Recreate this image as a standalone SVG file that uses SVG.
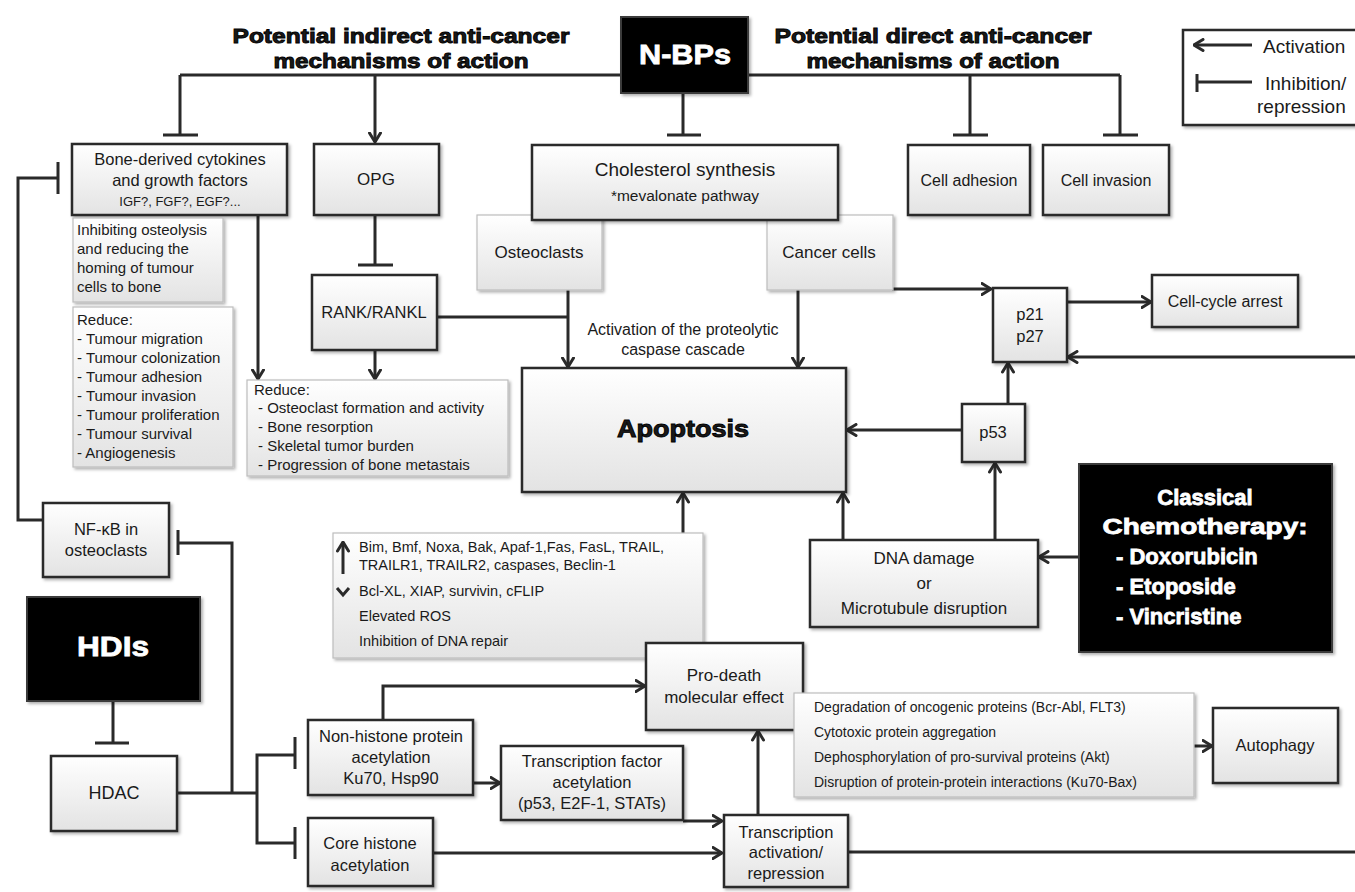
<svg xmlns="http://www.w3.org/2000/svg" width="1355" height="892" viewBox="0 0 1355 892">
<defs>
<linearGradient id="g" x1="0" y1="0" x2="0" y2="1">
<stop offset="0" stop-color="#ffffff"/>
<stop offset="1" stop-color="#e3e3e3"/>
</linearGradient>
<filter id="sh" x="-10%" y="-10%" width="130%" height="130%">
<feDropShadow dx="2" dy="2" stdDeviation="1.5" flood-color="#000" flood-opacity="0.3"/>
</filter>
<marker id="ar" viewBox="0 0 12 14" refX="10.5" refY="7" markerWidth="12" markerHeight="14" orient="auto" markerUnits="userSpaceOnUse">
<path d="M1.5,1.5 L10.5,7 L1.5,12.5" fill="none" stroke="#2a2a2a" stroke-width="3" stroke-linecap="round"/>
</marker>
</defs>
<style>
.box{fill:url(#g);stroke:#2a2a2a;stroke-width:2.5;filter:url(#sh)}
.lbox{fill:url(#g);stroke:#bdbdbd;stroke-width:1.2;filter:url(#sh)}
.blk{fill:#000;stroke:#3a3a3a;stroke-width:2;filter:url(#sh)}
.t{font-family:"Liberation Sans",Arial,sans-serif;fill:#1a1a1a}
.c{text-anchor:middle}
.b{font-weight:bold}
.hv{font-weight:bold;stroke:#000;stroke-width:0.9}
.w{fill:#fff}
.hw{font-weight:bold;fill:#fff;stroke:#fff;stroke-width:0.8}
.ln{stroke:#2a2a2a;stroke-width:3;fill:none}
.a{marker-end:url(#ar)}
</style>
<rect width="1355" height="892" fill="#fff"/>

<g id="titles">
<text class="t hv" x="401" y="43" font-size="21" text-anchor="middle" textLength="337" lengthAdjust="spacingAndGlyphs">Potential indirect anti-cancer</text>
<text class="t hv" x="401" y="68" font-size="21" text-anchor="middle" textLength="255" lengthAdjust="spacingAndGlyphs">mechanisms of action</text>
<text class="t hv" x="933" y="43" font-size="21" text-anchor="middle" textLength="317" lengthAdjust="spacingAndGlyphs">Potential direct anti-cancer</text>
<text class="t hv" x="933" y="68" font-size="21" text-anchor="middle" textLength="253" lengthAdjust="spacingAndGlyphs">mechanisms of action</text>
<text class="t c" x="683" y="335" font-size="16">Activation of the proteolytic</text>
<text class="t c" x="683" y="355" font-size="16">caspase cascade</text>
</g>

<g id="connectors">
<path class="ln" d="M180,75 H1120"/>
<path class="ln" d="M180,75 V135 M163,135 H198"/>
<path class="ln a" d="M375,75 V142"/>
<path class="ln" d="M683,93 V135 M667,135 H701"/>
<path class="ln" d="M970,75 V135 M953,135 H988"/>
<path class="ln" d="M1120,75 V135 M1103,135 H1138"/>
<path class="ln" d="M43,520 H18 V178 H58 M58,162 V194"/>
<path class="ln a" d="M258,215 V379"/>
<path class="ln" d="M375,215 V265 M358,265 H393"/>
<path class="ln a" d="M375,350 V379"/>
<path class="ln" d="M437,317 H568"/>
<path class="ln a" d="M568,290 V367"/>
<path class="ln a" d="M798,290 V367"/>
<path class="ln a" d="M892,289 H991"/>
<path class="ln a" d="M1067,302 H1151"/>
<path class="ln a" d="M1355,357 H1068"/>
<path class="ln a" d="M1008,404 V363"/>
<path class="ln a" d="M962,430 H847"/>
<path class="ln a" d="M843,540 V493"/>
<path class="ln a" d="M995,540 V463"/>
<path class="ln a" d="M1079,557 H1039"/>
<path class="ln a" d="M683,533 V493"/>
<path class="ln" d="M113,701 V743 M95,743 H129"/>
<path class="ln" d="M177,793 H257"/>
<path class="ln" d="M232,793 V543 H179 M178,530 V555"/>
<path class="ln" d="M295,755 H257 V843 H295 M295,737 V769 M295,827 V859"/>
<path class="ln a" d="M383,720 V686 H645"/>
<path class="ln a" d="M473,783 H500"/>
<path class="ln a" d="M683,821 H722"/>
<path class="ln a" d="M433,853 H722"/>
<path class="ln a" d="M758,815 V731"/>
<path class="ln" d="M848,852 H1355"/>
<path class="ln a" d="M1194,746 H1212"/>
</g>

<g id="nbps"><rect class="blk" x="621" y="17" width="127" height="76"/><text class="t hw c" x="685" y="64" font-size="28" textLength="92" lengthAdjust="spacingAndGlyphs">N-BPs</text></g>

<g id="bone"><rect class="box" x="72" y="144" width="215" height="71"/>
<text class="t c" x="180" y="165" font-size="16.5">Bone-derived cytokines</text>
<text class="t c" x="180" y="186" font-size="16.5">and growth factors</text>
<text class="t c" x="180" y="206" font-size="13">IGF?, FGF?, EGF?...</text></g>

<g id="opg"><rect class="box" x="314" y="144" width="125" height="71"/><text class="t c" x="376" y="185" font-size="17">OPG</text></g>

<g id="osteoclasts"><rect class="lbox" x="477" y="215" width="125" height="75"/><text class="t c" x="539" y="258" font-size="17">Osteoclasts</text></g>
<g id="cancer"><rect class="lbox" x="767" y="215" width="126" height="75"/><text class="t c" x="829" y="258" font-size="17">Cancer cells</text></g>

<g id="cholesterol"><rect class="box" x="532" y="145" width="306" height="75"/>
<text class="t c" x="685" y="176" font-size="19">Cholesterol synthesis</text>
<text class="t c" x="685" y="201" font-size="15.5">*mevalonate pathway</text></g>

<g id="adhesion"><rect class="box" x="908" y="145" width="122" height="70"/><text class="t c" x="969" y="186" font-size="16">Cell adhesion</text></g>
<g id="invasion"><rect class="box" x="1043" y="145" width="126" height="70"/><text class="t c" x="1106" y="186" font-size="16">Cell invasion</text></g>

<g id="legend"><rect x="1183" y="30" width="185" height="95" fill="#fff" stroke="#2a2a2a" stroke-width="2.5" filter="url(#sh)"/>
<path class="ln a" d="M1252,45 H1194"/>
<path class="ln" d="M1252,82 H1197 M1197,74 V92"/>
<text class="t" x="1263" y="53" font-size="19">Activation</text>
<text class="t" x="1265" y="90" font-size="19">Inhibition/</text>
<text class="t" x="1257" y="113" font-size="19">repression</text></g>

<g id="inhibiting"><rect class="lbox" x="73" y="218" width="150" height="84"/>
<text class="t" x="77" y="235" font-size="15">Inhibiting osteolysis</text>
<text class="t" x="77" y="254" font-size="15">and reducing the</text>
<text class="t" x="77" y="273" font-size="15">homing of tumour</text>
<text class="t" x="77" y="292" font-size="15">cells to bone</text></g>

<g id="reduce1"><rect class="lbox" x="73" y="307" width="160" height="160"/>
<text class="t" x="77" y="325" font-size="15">Reduce:</text>
<text class="t" x="77" y="344" font-size="15">- Tumour migration</text>
<text class="t" x="77" y="363" font-size="15">- Tumour colonization</text>
<text class="t" x="77" y="382" font-size="15">- Tumour adhesion</text>
<text class="t" x="77" y="401" font-size="15">- Tumour invasion</text>
<text class="t" x="77" y="420" font-size="15">- Tumour proliferation</text>
<text class="t" x="77" y="439" font-size="15">- Tumour survival</text>
<text class="t" x="77" y="458" font-size="15">- Angiogenesis</text></g>

<g id="reduce2"><rect class="lbox" x="247" y="380" width="261" height="96"/>
<text class="t" x="254" y="395" font-size="15">Reduce:</text>
<text class="t" x="258" y="413" font-size="15">- Osteoclast formation and activity</text>
<text class="t" x="258" y="432" font-size="15">- Bone resorption</text>
<text class="t" x="258" y="451" font-size="15">- Skeletal tumor burden</text>
<text class="t" x="258" y="470" font-size="15">- Progression of bone metastais</text></g>

<g id="rank"><rect class="box" x="312" y="275" width="125" height="75"/><text class="t c" x="374" y="318" font-size="16.5">RANK/RANKL</text></g>

<g id="p21"><rect class="box" x="993" y="288" width="74" height="74"/>
<text class="t c" x="1030" y="320" font-size="16.5">p21</text>
<text class="t c" x="1030" y="342" font-size="16.5">p27</text></g>

<g id="cellcycle"><rect class="box" x="1152" y="275" width="146" height="52"/><text class="t c" x="1225" y="307" font-size="16">Cell-cycle arrest</text></g>

<g id="apoptosis"><rect class="box" x="522" y="368" width="324" height="124"/><text class="t hv c" x="683" y="437" font-size="24" textLength="132" lengthAdjust="spacingAndGlyphs">Apoptosis</text></g>

<g id="p53"><rect class="box" x="962" y="404" width="63" height="58"/><text class="t c" x="993" y="438" font-size="16.5">p53</text></g>

<g id="dna"><rect class="box" x="810" y="540" width="228" height="87"/>
<text class="t c" x="924" y="564" font-size="17">DNA damage</text>
<text class="t c" x="924" y="589" font-size="17">or</text>
<text class="t c" x="924" y="614" font-size="17">Microtubule disruption</text></g>

<g id="classical"><rect class="blk" x="1079" y="464" width="253" height="188"/>
<text class="t hw c" x="1205" y="505" font-size="22">Classical</text>
<text class="t hw c" x="1205" y="534" font-size="22" textLength="205" lengthAdjust="spacingAndGlyphs">Chemotherapy:</text>
<text class="t hw" x="1116" y="564" font-size="22">- Doxorubicin</text>
<text class="t hw" x="1116" y="594" font-size="22">- Etoposide</text>
<text class="t hw" x="1116" y="624" font-size="22">- Vincristine</text></g>

<g id="bim"><rect class="lbox" x="333" y="533" width="370" height="125"/>
<path class="ln a" d="M343,574 V542" stroke-width="2.5"/>
<path d="M337,588 L343,595 L349,588" fill="none" stroke="#2a2a2a" stroke-width="3"/>
<text class="t" x="359" y="552" font-size="14.5">Bim, Bmf, Noxa, Bak, Apaf-1,Fas, FasL, TRAIL,</text>
<text class="t" x="359" y="570" font-size="14.5">TRAILR1, TRAILR2, caspases, Beclin-1</text>
<text class="t" x="359" y="596" font-size="14.5">Bcl-XL, XIAP, survivin, cFLIP</text>
<text class="t" x="359" y="621" font-size="14.5">Elevated ROS</text>
<text class="t" x="359" y="646" font-size="14.5">Inhibition of DNA repair</text></g>

<g id="nfkb"><rect class="box" x="43" y="503" width="126" height="74"/>
<text class="t c" x="106" y="535" font-size="16.5">NF-κB in</text>
<text class="t c" x="106" y="556" font-size="16.5">osteoclasts</text></g>

<g id="hdis"><rect class="blk" x="27" y="597" width="173" height="104"/><text class="t hw c" x="113" y="656" font-size="28" textLength="72" lengthAdjust="spacingAndGlyphs">HDIs</text></g>

<g id="hdac"><rect class="box" x="51" y="756" width="126" height="75"/><text class="t c" x="114" y="799" font-size="18">HDAC</text></g>

<g id="nonhistone"><rect class="box" x="308" y="720" width="165" height="75"/>
<text class="t c" x="391" y="742" font-size="16.5">Non-histone protein</text>
<text class="t c" x="391" y="763" font-size="16.5">acetylation</text>
<text class="t c" x="391" y="784" font-size="16.5">Ku70, Hsp90</text></g>

<g id="core"><rect class="box" x="308" y="818" width="125" height="68"/>
<text class="t c" x="370" y="849" font-size="16.5">Core histone</text>
<text class="t c" x="370" y="871" font-size="16.5">acetylation</text></g>

<g id="prodeath"><rect class="box" x="646" y="643" width="157" height="87"/>
<text class="t c" x="724" y="681" font-size="17">Pro-death</text>
<text class="t c" x="724" y="703" font-size="17">molecular effect</text></g>

<g id="tf"><rect class="box" x="501" y="746" width="182" height="74"/>
<text class="t c" x="592" y="767" font-size="16.5">Transcription factor</text>
<text class="t c" x="592" y="788" font-size="16.5">acetylation</text>
<text class="t c" x="592" y="809" font-size="16.5">(p53, E2F-1, STATs)</text></g>

<g id="transcription"><rect class="box" x="724" y="815" width="124" height="72"/>
<text class="t c" x="786" y="838" font-size="16.5">Transcription</text>
<text class="t c" x="786" y="858" font-size="16.5">activation/</text>
<text class="t c" x="786" y="879" font-size="16.5">repression</text></g>

<g id="degradation"><rect class="lbox" x="794" y="693" width="400" height="104"/>
<text class="t" x="814" y="712" font-size="14">Degradation of oncogenic proteins (Bcr-Abl, FLT3)</text>
<text class="t" x="814" y="737" font-size="14">Cytotoxic protein aggregation</text>
<text class="t" x="814" y="762" font-size="14">Dephosphorylation of pro-survival proteins (Akt)</text>
<text class="t" x="814" y="787" font-size="14">Disruption of protein-protein interactions (Ku70-Bax)</text></g>

<g id="autophagy"><rect class="box" x="1213" y="708" width="125" height="75"/><text class="t c" x="1275" y="751" font-size="16.5">Autophagy</text></g>
</svg>
